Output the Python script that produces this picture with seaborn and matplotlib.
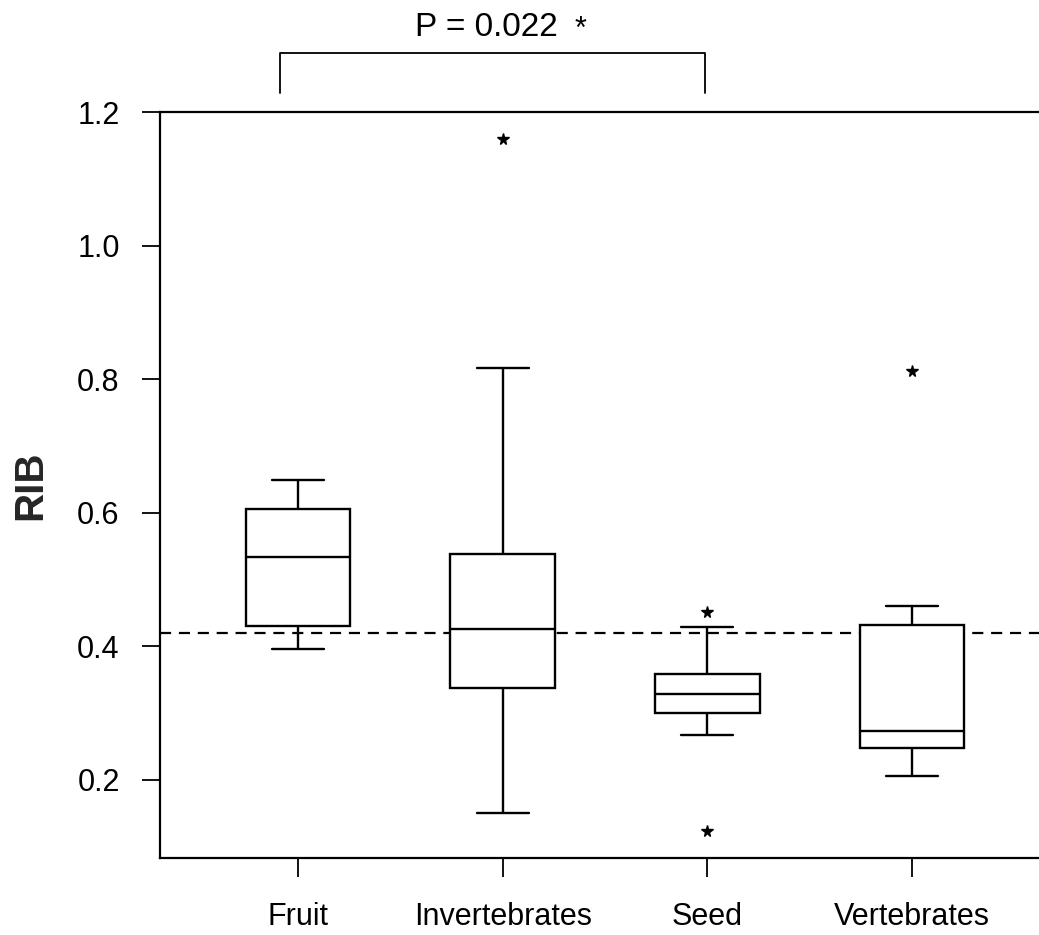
import matplotlib
matplotlib.use("Agg")
import matplotlib.pyplot as plt
from matplotlib import font_manager
import seaborn as sns
import pandas as pd

# ---- data ----
categories = ["Fruit", "Invertebrates", "Seed", "Vertebrates"]
fruit = [0.396, 0.431, 0.534, 0.605, 0.649]
invertebrates = [0.150, 0.26, 0.3375, 0.38, 0.4265, 0.48, 0.5375, 0.816, 1.16]
seed = [0.124, 0.2675, 0.2995, 0.31, 0.329, 0.345, 0.358, 0.429, 0.452]
vertebrates = [0.206, 0.23, 0.247, 0.26, 0.273, 0.35, 0.432, 0.461, 0.812]
reference_level = 0.42
p_text = "P = 0.022"
y_ticks = [0.2, 0.4, 0.6, 0.8, 1.0, 1.2]

groups = [fruit, invertebrates, seed, vertebrates]
df = pd.DataFrame({
    "group": [c for c, g in zip(categories, groups) for _ in g],
    "RIB": [v for g in groups for v in g],
})

sns.set_theme(style="white")
available = {f.name for f in font_manager.fontManager.ttflist}
main_font = "Liberation Sans" if "Liberation Sans" in available else "DejaVu Sans"
narrow_font = "Liberation Sans Narrow" if "Liberation Sans Narrow" in available else main_font
plt.rcParams["font.family"] = [main_font, "DejaVu Sans"]

fig = plt.figure(figsize=(10.39, 9.35), dpi=100)
ax = fig.add_axes([160 / 1039, 1 - 858 / 935, 1 - 160 / 1039, (858 - 112) / 935])

sns.boxplot(
    data=df, x="group", y="RIB", order=categories, ax=ax,
    color="white", linecolor="black", linewidth=1.7, width=0.51,
    whis=1.5,
    flierprops=dict(marker="*", markersize=8.5, markerfacecolor="black",
                    markeredgecolor="black", linestyle="none"),
)

ax.axhline(reference_level, color="black", linewidth=1.6,
           linestyle=(0, (5, 3.5)), zorder=1)

ax.set_xlim(-0.674, 3.62)
ax.set_ylim(0.083, 1.2)
ax.set_yticks(y_ticks)
ax.set_yticklabels([f"{t:.1f}" for t in y_ticks])

for side in ["left", "bottom", "top"]:
    ax.spines[side].set_visible(True)
    ax.spines[side].set_color("black")
    ax.spines[side].set_linewidth(1.6)
ax.spines["right"].set_visible(False)

ax.tick_params(axis="y", direction="out", length=13, width=1.3,
               pad=16, labelsize=22, colors="black", left=True)
ax.tick_params(axis="x", direction="out", length=13.5, width=1.3,
               pad=18, labelsize=22, colors="black", bottom=True)

ax.set_xlabel("")
ax.set_ylabel("RIB", fontsize=29, fontweight="bold")
ax.yaxis.set_label_coords(-0.126, 0.5)

# significance bracket between Fruit and Seed
ax.plot([-0.088, -0.088, 1.99, 1.99], [1.229, 1.289, 1.289, 1.229],
        color="black", linewidth=1.3, clip_on=False)
ax.text(0.921, 1.327, p_text, ha="center", va="center", fontsize=24,
        family=[narrow_font, "DejaVu Sans"], color="black", clip_on=False)
ax.text(1.378, 1.323, "*", ha="center", va="center", fontsize=22,
        color="black", clip_on=False)

fig.savefig("out.png", dpi=100, facecolor="white")
